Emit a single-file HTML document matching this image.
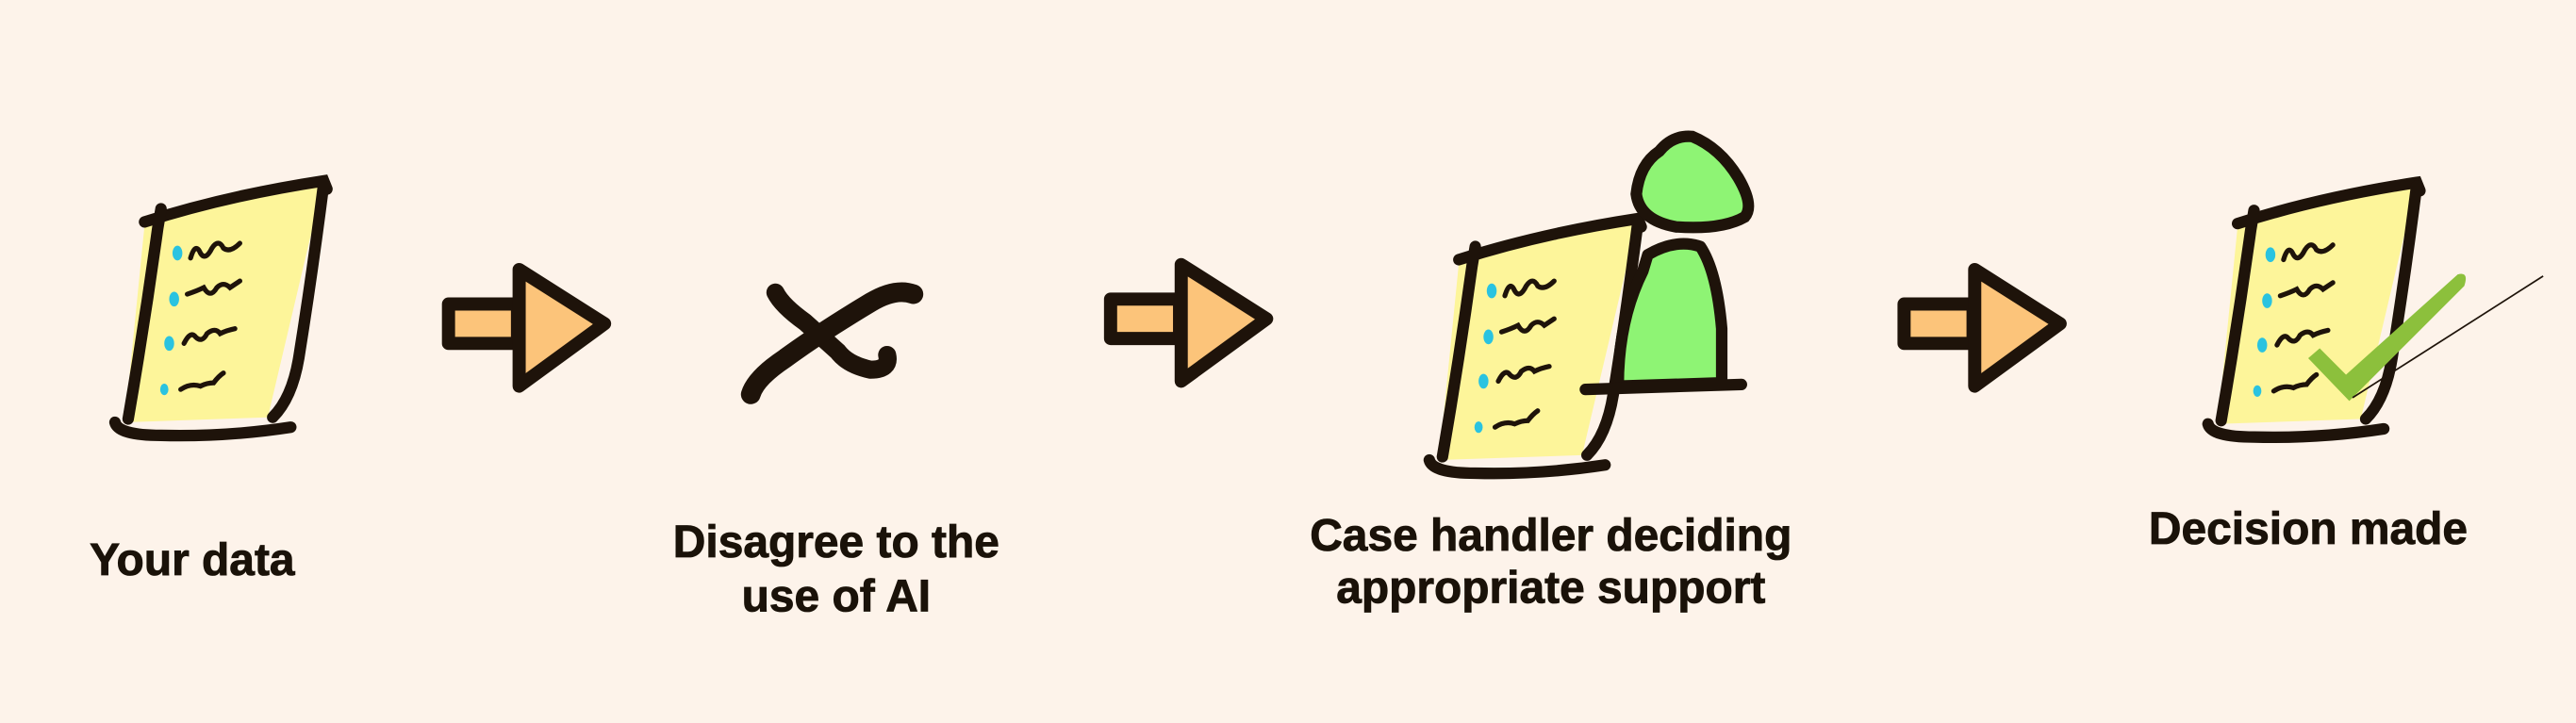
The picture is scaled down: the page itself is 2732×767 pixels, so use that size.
<!DOCTYPE html>
<html><head><style>
html,body{margin:0;padding:0;background:#fdf3ea;}
svg{display:block;}
text{font-family:"Liberation Sans",sans-serif;font-weight:bold;font-size:27.5px;fill:#1a1209;stroke:#1a1209;stroke-width:0.5;text-anchor:middle;}
</style></head><body>
<svg width="2732" height="767" viewBox="0 0 1568 440" xmlns="http://www.w3.org/2000/svg">
<rect width="1568" height="440" fill="#fdf3ea"/>
<defs>
<g id="doc">
  <path d="M10,30 L119,3 L85,147 L-2,150 Z" fill="#fdf59a"/>
  <path d="M10,28 Q60,12 119,3 L121,8" fill="none" stroke="#1e130a" stroke-width="7" stroke-linecap="round"/>
  <path d="M119,5 Q112,60 104,110 Q100,135 88,147" fill="none" stroke="#1e130a" stroke-width="7" stroke-linecap="round"/>
  <path d="M20,20 L18,32 Q10,90 0,148" fill="none" stroke="#1e130a" stroke-width="7" stroke-linecap="round"/>
  <path d="M-8,150 Q-6,158 20,158 Q60,159 99,153" fill="none" stroke="#1e130a" stroke-width="7" stroke-linecap="round"/>
  <g fill="#2ac3e0"><ellipse cx="30" cy="47" rx="3" ry="4.5"/><ellipse cx="28" cy="75" rx="3" ry="4.5"/><ellipse cx="25" cy="102" rx="3" ry="4.5"/><ellipse cx="22" cy="130" rx="2.5" ry="3.5"/></g>
  <g fill="none" stroke="#1e130a" stroke-width="3" stroke-linecap="round">
   <path d="M38,50 Q41,40 44,47 Q47,52 51,44 Q55,38 58,44 Q62,47 68,41"/>
   <path d="M36,72 Q42,70 46,68 Q50,75 54,68 Q58,64 62,68 Q65,66 68,64"/>
   <path d="M34,102 Q38,94 41,98 Q45,102 48,96 Q53,92 56,96 Q60,94 65,93"/>
   <path d="M32,130 Q38,126 44,128 Q48,126 52,126 Q55,122 58,120"/>
  </g>
</g>
<g id="arr">
  <path d="M3,23 L45,23 L45,47 L3,47 Z" fill="#fcc47a" stroke="#1e130a" stroke-width="8" stroke-linejoin="round"/>
  <path d="M46,2 L98,35 L46,73 Z" fill="#fcc47a" stroke="#1e130a" stroke-width="8" stroke-linejoin="round"/>
</g>
</defs>

<use href="#doc" x="78" y="107"/>
<use href="#arr" x="270" y="162"/>
<path d="M472,178 Q476,186 490,196 Q500,205 510,214 Q516,222 530,225 Q542,225 540,216" fill="none" stroke="#1e130a" stroke-width="11" stroke-linecap="round"/>
<path d="M556,179 Q545,175 530,184 Q500,202 478,218 Q460,230 457,240" fill="none" stroke="#1e130a" stroke-width="12" stroke-linecap="round"/>
<use href="#arr" x="673" y="159"/>

<use href="#doc" x="878" y="130"/>
<path d="M1003,155 Q1020,145 1035,150 Q1045,165 1048,200 L1048,233 L985,235 Q985,195 1000,165 Z" fill="#8ef474" stroke="#1e130a" stroke-width="7" stroke-linejoin="round"/>
<path d="M965,237 L1060,234" stroke="#1e130a" stroke-width="7" stroke-linecap="round"/>
<path d="M1030,83 Q1047,90 1058,108 Q1068,125 1062,132 Q1048,140 1020,138 Q998,134 996,118 Q998,100 1010,92 Q1018,82 1030,83 Z" fill="#8ef474" stroke="#1e130a" stroke-width="7"/>

<use href="#arr" x="1156" y="162"/>
<use href="#doc" x="1352" y="108"/>
<path d="M1405,218 L1412,212 L1428,228 L1496,167 Q1503,165 1500,174 L1430,244 Z" fill="#8cc03c"/>
<path d="M1432,242 L1548,168" stroke="#1e130a" stroke-width="1"/>

<text x="117" y="350">Your data</text>
<text x="509" y="339">Disagree to the</text>
<text x="509" y="372">use of AI</text>
<text x="944" y="335">Case handler deciding</text>
<text x="944" y="367">appropriate support</text>
<text x="1405" y="331">Decision made</text>
</svg>
</body></html>
